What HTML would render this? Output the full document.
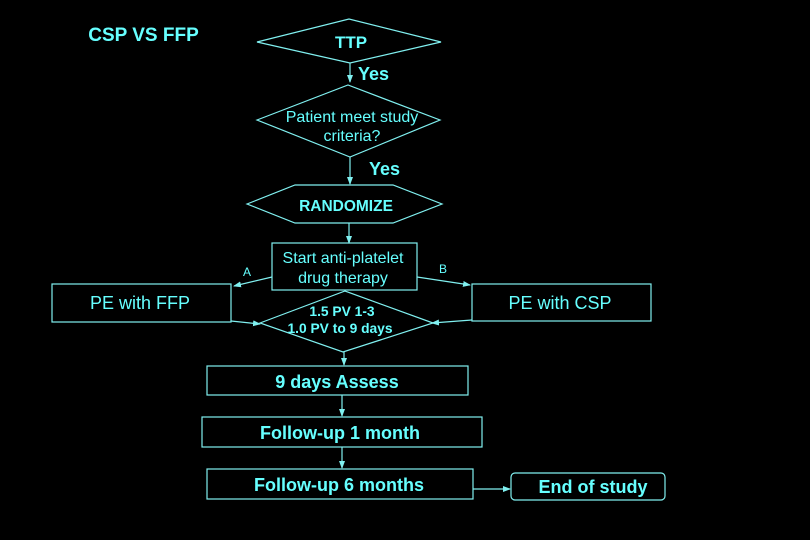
<!DOCTYPE html>
<html><head><meta charset="utf-8"><style>
html,body{margin:0;padding:0;background:#000;}
svg{display:block;}
text{font-family:"Liberation Sans",Arial,sans-serif;fill:#66ffff;}
.b{font-weight:bold;}
</style></head><body>
<svg width="810" height="540" viewBox="0 0 810 540" xmlns="http://www.w3.org/2000/svg">
<defs>
<marker id="ah" markerWidth="8" markerHeight="8" refX="7" refY="4" orient="auto" markerUnits="userSpaceOnUse">
<path d="M0,1 L8,4 L0,7 Z" fill="#80f0f0"/>
</marker>
</defs>
<rect width="810" height="540" fill="#000"/>
<g fill="none" stroke="#80f0f0" stroke-width="1.2">
<polygon points="257,42 349,19 441,42 350,63"/>
<polygon points="257,120 348,85 440,120 350,157"/>
<polygon points="247,204 295,185 393,185 442,204 393,223 295,223"/>
<rect x="272" y="243" width="145" height="47"/>
<rect x="52" y="284" width="179" height="38"/>
<rect x="472" y="284" width="179" height="37"/>
<polygon points="260,323 345,291 433,323 343,352"/>
<rect x="207" y="366" width="261" height="29"/>
<rect x="202" y="417" width="280" height="30"/>
<rect x="207" y="469" width="266" height="30"/>
<rect x="511" y="473" width="154" height="27" rx="4"/>
<line x1="350" y1="63" x2="350" y2="82" marker-end="url(#ah)"/>
<line x1="350" y1="157" x2="350" y2="184" marker-end="url(#ah)"/>
<line x1="349" y1="223" x2="349" y2="243" marker-end="url(#ah)"/>
<line x1="272" y1="277" x2="234" y2="286" marker-end="url(#ah)"/>
<line x1="417" y1="277" x2="470" y2="285" marker-end="url(#ah)"/>
<line x1="231" y1="321" x2="260" y2="324" marker-end="url(#ah)"/>
<line x1="472" y1="320" x2="432" y2="323" marker-end="url(#ah)"/>
<line x1="344" y1="352" x2="344" y2="365" marker-end="url(#ah)"/>
<line x1="342" y1="395" x2="342" y2="416" marker-end="url(#ah)"/>
<line x1="342" y1="447" x2="342" y2="468" marker-end="url(#ah)"/>
<line x1="473" y1="489" x2="510" y2="489" marker-end="url(#ah)"/>
</g>
<text x="143.5" y="41" class="b" font-size="19" text-anchor="middle">CSP VS FFP</text>
<text x="351" y="48" class="b" font-size="17" text-anchor="middle">TTP</text>
<text x="358" y="80" class="b" font-size="18">Yes</text>
<text x="352" y="122" font-size="16" text-anchor="middle">Patient meet study</text>
<text x="352" y="141" font-size="16" text-anchor="middle">criteria?</text>
<text x="369" y="175" class="b" font-size="18">Yes</text>
<text x="346" y="211" class="b" font-size="15.5" text-anchor="middle">RANDOMIZE</text>
<text x="343" y="263" font-size="16" text-anchor="middle">Start anti-platelet</text>
<text x="343" y="283" font-size="16" text-anchor="middle">drug therapy</text>
<text x="243" y="276" font-size="12">A</text>
<text x="439" y="273" font-size="12">B</text>
<text x="140" y="309" font-size="18" text-anchor="middle">PE with FFP</text>
<text x="560" y="309" font-size="18" text-anchor="middle">PE with CSP</text>
<text x="342" y="316" class="b" font-size="13.8" text-anchor="middle">1.5 PV 1-3</text>
<text x="340" y="333" class="b" font-size="13.8" text-anchor="middle">1.0 PV to 9 days</text>
<text x="337" y="388" class="b" font-size="18" text-anchor="middle">9 days Assess</text>
<text x="340" y="439" class="b" font-size="18" text-anchor="middle">Follow-up 1 month</text>
<text x="339" y="491" class="b" font-size="18" text-anchor="middle">Follow-up 6 months</text>
<text x="593" y="493" class="b" font-size="18" text-anchor="middle">End of study</text>
</svg>
</body></html>
